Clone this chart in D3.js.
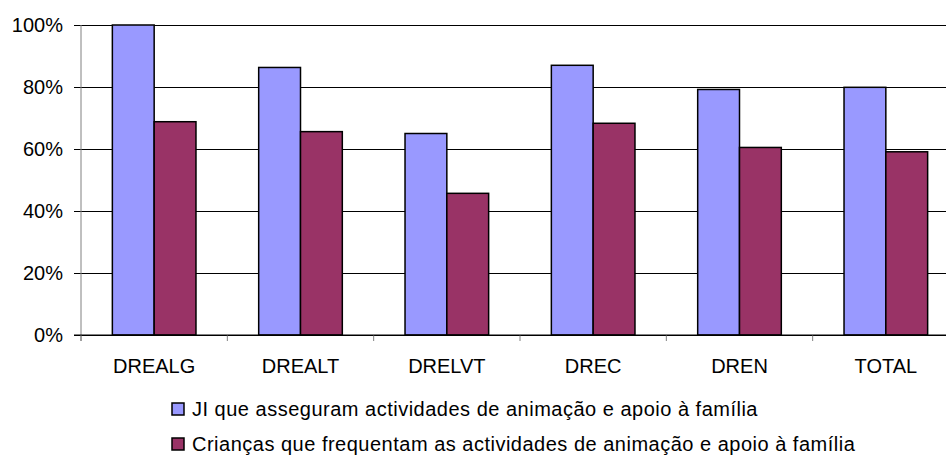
<!DOCTYPE html>
<html>
<head>
<meta charset="utf-8">
<script src="https://cdn.jsdelivr.net/npm/d3@7"></script>
<style>
  body { margin: 0; background: #fff; }
  svg { display: block; font-family: "Liberation Sans", Arial, sans-serif; }
</style>
</head>
<body>
<div id="chart"></div>
<script>
const categories = ["DREALG", "DREALT", "DRELVT", "DREC", "DREN", "TOTAL"]
const seriesNames = [
    "JI que asseguram actividades de animação e apoio à família",
    "Crianças que frequentam as actividades de animação e apoio à família"
]
const jiValues = [100, 86.3, 65.0, 87.0, 79.2, 79.9]
const criancasValues = [68.8, 65.6, 45.7, 68.3, 60.5, 59.1]
const yTicks = [0, 20, 40, 60, 80, 100]
const colors = ["#9999ff", "#993366"]

const svg_width = 946, svg_height = 455;
const plotLeft = 81, plotRight = 959, plotTop = 25, plotBottom = 335;

let svg = d3.select("#chart")
    .append("svg")
    .attr("width", svg_width)
    .attr("height", svg_height);

// scales
let xScale = d3.scaleBand()
    .domain(categories)
    .range([plotLeft, plotRight]);
let xSeries = d3.scaleBand()
    .domain([0, 1])
    .range([0, xScale.bandwidth() * 2 / 3.5])
let yScale = d3.scaleLinear()
    .domain([0, 100])
    .range([plotBottom, plotTop]);

// gridlines + y labels
let yAxis = svg.append("g")
    .attr("transform", "translate(" + plotLeft + ",0)")
    .call(d3.axisLeft(yScale).tickValues(yTicks).tickSize(7).tickFormat(d => d + "%"));
yAxis.select(".domain").remove();
yAxis.selectAll(".tick line").attr("stroke", "#000").attr("x2", plotRight - plotLeft).attr("x1", -7);
yAxis.selectAll(".tick text")
    .attr("x", -18)
    .attr("font-size", 20)
    .attr("fill", "#000")
    .attr("font-family", "Liberation Sans, Arial, sans-serif");

// bars
const series = [jiValues, criancasValues];
const barOffset = (xScale.bandwidth() - xSeries.range()[1]) / 2;
series.forEach((values, s) => {
    svg.append("g")
        .selectAll("rect")
        .data(values)
        .enter()
        .append("rect")
        .attr("x", (d, i) => xScale(categories[i]) + barOffset + xSeries(s))
        .attr("y", d => yScale(d))
        .attr("width", xSeries.bandwidth())
        .attr("height", d => plotBottom - yScale(d))
        .attr("fill", colors[s])
        .attr("stroke", "#000")
        .attr("stroke-width", 1.5);
});

// x axis
let xAxis = svg.append("g")
    .attr("transform", "translate(0," + plotBottom + ")")
    .call(d3.axisBottom(xScale).tickSize(0).tickPadding(0));
xAxis.select(".domain").remove();
xAxis.selectAll(".tick text")
    .attr("y", 38)
    .attr("dy", 0)
    .attr("font-size", 20)
    .attr("fill", "#000")
    .attr("font-family", "Liberation Sans, Arial, sans-serif");
// category separator ticks
svg.append("g")
    .selectAll("line")
    .data(categories)
    .enter()
    .append("line")
    .attr("x1", d => xScale(d))
    .attr("x2", d => xScale(d))
    .attr("y1", plotBottom)
    .attr("y2", plotBottom + 6)
    .attr("stroke", "#808080");
svg.append("line")
    .attr("x1", plotLeft).attr("x2", plotLeft)
    .attr("y1", plotTop).attr("y2", plotBottom + 6)
    .attr("stroke", "#808080");
svg.append("line")
    .attr("x1", plotLeft - 7).attr("x2", plotRight)
    .attr("y1", plotBottom).attr("y2", plotBottom)
    .attr("stroke", "#000");

// legend
let legend = svg.selectAll("legends")
    .data(seriesNames)
    .enter()
    .append("g")
    .attr("transform", (d, i) => "translate(172," + (403 + i * 35) + ")");
legend.append("rect")
    .attr("width", 12)
    .attr("height", 12)
    .attr("fill", (d, i) => colors[i])
    .attr("stroke", "#000")
    .attr("stroke-width", 1.5);
legend.append("text")
    .attr("x", 20)
    .attr("y", 13)
    .attr("font-size", 20)
    .attr("letter-spacing", 0.5)
    .text(d => d);
</script>
</body>
</html>
